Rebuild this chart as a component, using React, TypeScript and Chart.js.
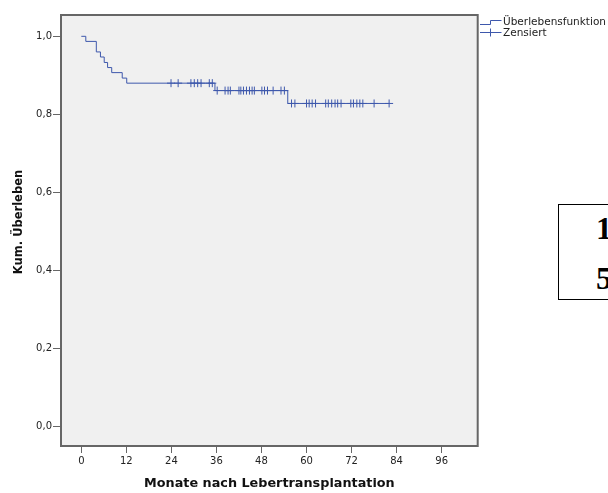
import { useEffect, useRef } from "react";
import { Chart, registerables } from "chart.js";

Chart.register(...registerables);

// Axis ticks
const xTickValues = [0, 12, 24, 36, 48, 60, 72, 84, 96];
const yTickValues = [0, 0.2, 0.4, 0.6, 0.8, 1.0];

// Kaplan-Meier estimate: month at which each step occurs and the cumulative survival after it
const stepMonths = [0, 1.2, 4.0, 5.1, 6.1, 7.0, 8.1, 10.9, 12.1, 35.6, 55.0];
const stepSurvival = [1.0, 0.987, 0.96, 0.947, 0.933, 0.92, 0.907, 0.893, 0.88, 0.861, 0.828];
const lastFollowUpMonth = 82.0;

// Censored observations (months)
const censoredMonths = [
  23.9, 25.8, 29.2, 30.1, 31.0, 31.9, 34.1, 34.9,
  36.2, 38.3, 39.1, 39.7, 42.0, 42.5, 43.2, 44.0, 44.8, 45.5, 46.1, 48.1, 48.8, 49.6, 51.1, 53.2, 54.1,
  56.0, 56.9, 60.0, 60.7, 61.5, 62.4, 65.1, 65.8, 66.7, 67.6, 68.3, 69.2, 71.8, 72.5, 73.4, 74.2, 75.0, 78.0, 82.0,
];

const LINE_BLUE = "#3e58ac";
const AXIS_GREY = "#666666";
const TEXT_DARK = "#222222";

function survivalAt(month: number): number {
  let s = stepSurvival[0];
  for (let i = 0; i < stepMonths.length; i++) {
    if (stepMonths[i] <= month) s = stepSurvival[i];
  }
  return s;
}

const curvePoints = [
  ...stepMonths.map((m, i) => ({ x: m, y: stepSurvival[i] })),
  { x: lastFollowUpMonth, y: stepSurvival[stepSurvival.length - 1] },
];
const censorPoints = censoredMonths.map((m) => ({ x: m, y: survivalAt(m) }));

const framePlugin = {
  id: "spssFrame",
  beforeDraw(chart: any) {
    const { ctx, chartArea: a } = chart;
    ctx.save();
    ctx.fillStyle = "#f0f0f0";
    ctx.fillRect(a.left, a.top, a.right - a.left, a.bottom - a.top);
    ctx.restore();
  },
  afterDraw(chart: any) {
    const { ctx, chartArea: a } = chart;
    ctx.save();
    ctx.strokeStyle = AXIS_GREY;
    ctx.lineWidth = 2;
    ctx.strokeRect(a.left, a.top, a.right - a.left, a.bottom - a.top);

    // axis titles
    ctx.fillStyle = "#111111";
    ctx.textAlign = "center";
    ctx.textBaseline = "middle";
    ctx.font = "bold 12.8px 'DejaVu Sans'";
    ctx.fillText("Monate nach Lebertransplantation", (a.left + a.right) / 2, 484);
    ctx.save();
    ctx.translate(19.5, 222);
    ctx.rotate(-Math.PI / 2);
    ctx.font = "bold 11.5px 'DejaVu Sans'";
    ctx.fillText("Kum. Überleben", 0, 0);
    ctx.restore();

    // legend
    const lx = 480;
    ctx.strokeStyle = LINE_BLUE;
    ctx.lineWidth = 1;
    ctx.beginPath();
    ctx.moveTo(lx, 24.5);
    ctx.lineTo(lx + 10.5, 24.5);
    ctx.lineTo(lx + 10.5, 20.5);
    ctx.lineTo(lx + 21.5, 20.5);
    ctx.stroke();
    ctx.beginPath();
    ctx.moveTo(lx, 32.5);
    ctx.lineTo(lx + 21.5, 32.5);
    ctx.moveTo(lx + 10.5, 28.5);
    ctx.lineTo(lx + 10.5, 36.5);
    ctx.stroke();

    ctx.fillStyle = TEXT_DARK;
    ctx.font = "10.5px 'DejaVu Sans'";
    ctx.textAlign = "left";
    ctx.textBaseline = "middle";
    ctx.fillText("Überlebensfunktion", 503, 22.5);
    ctx.fillText("Zensiert", 503, 33.5);
    ctx.restore();
  },
};

export default function App() {
  const canvasRef = useRef<HTMLCanvasElement | null>(null);

  useEffect(() => {
    const canvas = canvasRef.current;
    if (!canvas) return;
    const chart = new Chart(canvas, {
      type: "line",
      data: {
        datasets: [
          {
            label: "Überlebensfunktion",
            data: curvePoints,
            stepped: true,
            borderColor: LINE_BLUE,
            borderWidth: 1,
            pointRadius: 0,
            fill: false,
          },
          {
            label: "Zensiert",
            type: "scatter",
            data: censorPoints,
            showLine: false,
            pointStyle: "cross",
            pointRadius: 4,
            pointBorderColor: LINE_BLUE,
            borderColor: LINE_BLUE,
            pointBorderWidth: 1,
          },
        ],
      },
      options: {
        animation: false,
        responsive: false,
        layout: { padding: { left: 0, top: 15, right: 130.3, bottom: 0 } },
        plugins: { legend: { display: false }, tooltip: { enabled: false } },
        scales: {
          x: {
            type: "linear",
            min: -5.41,
            max: 105.6,
            afterBuildTicks: (s: any) => {
              s.ticks = xTickValues.map((v) => ({ value: v }));
            },
            afterFit: (s: any) => {
              s.height = 47;
            },
            border: { display: false },
            grid: { drawOnChartArea: false, drawTicks: true, tickLength: 7, color: AXIS_GREY },
            ticks: {
              autoSkip: false,
              maxRotation: 0,
              padding: 2,
              color: TEXT_DARK,
              font: { family: "'DejaVu Sans'", size: 10 },
            },
          },
          y: {
            type: "linear",
            min: -0.0494,
            max: 1.0546,
            afterBuildTicks: (s: any) => {
              s.ticks = yTickValues.map((v) => ({ value: v }));
            },
            afterFit: (s: any) => {
              s.width = 61;
            },
            border: { display: false },
            grid: { drawOnChartArea: false, drawTicks: true, tickLength: 8, color: AXIS_GREY },
            ticks: {
              padding: 1,
              color: TEXT_DARK,
              font: { family: "'DejaVu Sans'", size: 10 },
              callback: (v: any) => Number(v).toFixed(1).replace(".", ","),
            },
          },
        },
      },
      plugins: [framePlugin],
    } as any);
    return () => chart.destroy();
  }, []);

  return (
    <div
      style={{
        position: "fixed",
        left: 0,
        top: 0,
        width: 608,
        height: 493,
        overflow: "hidden",
        background: "#ffffff",
      }}
    >
      <canvas ref={canvasRef} width={608} height={493} style={{ display: "block", width: 608, height: 493 }} />
      <div
        style={{
          position: "absolute",
          left: 558,
          top: 204,
          width: 80,
          height: 94,
          border: "1px solid #000",
          background: "#ffffff",
          fontFamily: "'Liberation Serif', serif",
          fontWeight: "bold",
          fontSize: 32,
          lineHeight: "32px",
          color: "#000",
        }}
      >
        <span style={{ position: "absolute", left: 37, top: 7 }}>1</span>
        <span style={{ position: "absolute", left: 37, top: 57 }}>5</span>
      </div>
    </div>
  );
}
